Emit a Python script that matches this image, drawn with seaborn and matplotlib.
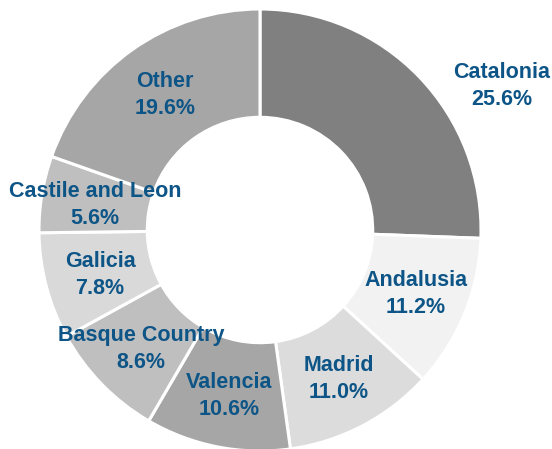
import matplotlib
matplotlib.use("Agg")
import matplotlib.pyplot as plt
import seaborn as sns

regions = ['Catalonia', 'Andalusia', 'Madrid', 'Valencia', 'Basque Country', 'Galicia', 'Castile and Leon', 'Other']
shares = [25.6, 11.2, 11.0, 10.6, 8.6, 7.8, 5.6, 19.6]
greys = ['#808080', '#f2f2f2', '#dcdcdc', '#a6a6a6', '#bfbfbf', '#d9d9d9', '#bfbfbf', '#a6a6a6']

# label centres in pixel space (x from left, y from top)
label_x = [502, 416, 339, 229, 141, 100, 95, 165]
label_y = [86, 294, 379, 396, 349, 275, 205, 95]

sns.set_theme(style="white")
plt.rcParams['font.family'] = ['Liberation Sans', 'DejaVu Sans']

W, H = 552, 449
fig = plt.figure(figsize=(W / 100, H / 100), dpi=100)
ax = fig.add_axes([0, 0, 1, 1])

ax.pie(shares, colors=greys, startangle=90, counterclock=False,
       center=(260, H - 230), radius=221,
       wedgeprops=dict(width=221 * 0.49, edgecolor='white', linewidth=2.2))

for name, val, x, y in zip(regions, shares, label_x, label_y):
    ax.text(x, H - y, f"{name}\n{val:.1f}%", ha='center', va='center',
            fontsize=15.5, fontweight='bold', color='#0d5587', linespacing=1.4)

ax.set_xlim(0, W)
ax.set_ylim(0, H)
ax.set_aspect('equal')
ax.axis('off')

fig.savefig('out.png', dpi=100)
